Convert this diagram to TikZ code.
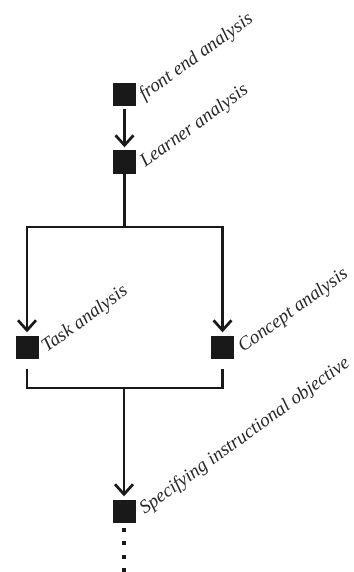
\documentclass[tikz,border=0pt]{standalone}
\usepackage{fontspec}
\setmainfont{Liberation Serif}
\usetikzlibrary{arrows.meta}
\begin{document}
\begin{tikzpicture}[x=1pt,y=-1pt,
  box/.style={fill=black!90,draw=none,minimum size=23pt,inner sep=0pt},
  conn/.style={line width=2.9pt,line join=miter,draw=black!90},
  arr/.style={conn,-{Straight Barb[length=10pt,width=18pt,line width=2.7pt]},shorten >=3pt},
  lab/.style={anchor=base west,rotate=36,inner sep=0pt,font=\fontsize{19}{22}\selectfont\itshape,text=black!85},
  dot/.style={fill=black!90,minimum size=3.5pt,inner sep=0pt}]
\useasboundingbox (0,0) rectangle (353,572);
\node[box] (front) at (124.5,95) {};
\node[box] (learner) at (124.5,162) {};
\node[box] (task) at (27,347) {};
\node[box] (concept) at (222.5,347) {};
\node[box] (spec) at (124,511) {};
\node[lab] at ([xshift=8pt,yshift=-6pt]front.east) {front end analysis};
\node[lab] at ([xshift=9pt,yshift=-6pt]learner.east) {Learner analysis};
\node[lab] at ([xshift=8pt,yshift=-6pt]task.east) {Task analysis};
\node[lab] at ([xshift=9pt,yshift=-6pt]concept.east) {Concept analysis};
\node[lab] at ([xshift=9pt,yshift=-4pt]spec.east) {Specifying instructional objective};
\coordinate (split) at (124.5,227);
\coordinate (join) at (124,388);
\draw[arr] ([yshift=-2pt]front.south) -- (learner);
\draw[conn] (learner.south) -- (split);
\draw[arr] (split) -| (task);
\draw[arr] (split) -| (concept);
\draw[conn] ([yshift=-10pt]task.south) |- (join) -| ([yshift=-10pt]concept.south);
\draw[arr] (join) -- (spec);
\foreach \y [count=\i] in {530,543,557,570} \node[dot] (d\i) at (124,\y) {};
\end{tikzpicture}
\end{document}
